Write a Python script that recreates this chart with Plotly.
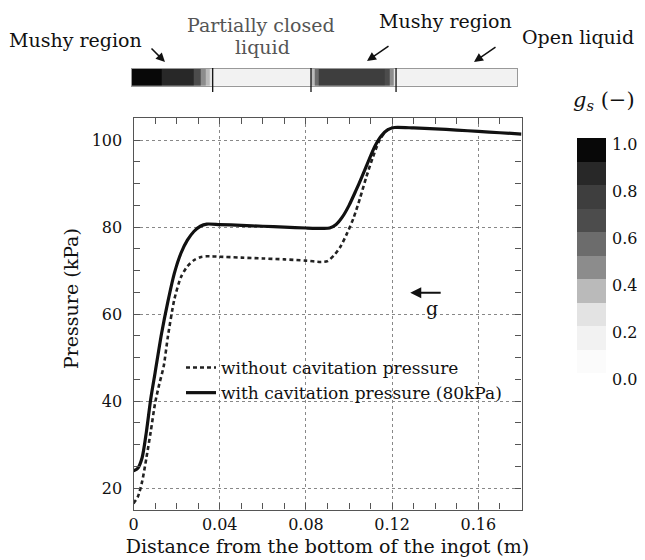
import plotly.graph_objects as go

# ---------------- data ----------------
x_with = [0, 0.002, 0.004, 0.006, 0.008, 0.010, 0.013, 0.016, 0.019, 0.022, 0.025, 0.028,
          0.031, 0.034, 0.04, 0.05, 0.06, 0.07, 0.08, 0.088, 0.091, 0.094, 0.097, 0.100,
          0.103, 0.106, 0.109, 0.112, 0.115, 0.118, 0.121, 0.13, 0.14, 0.15, 0.16, 0.17, 0.18]
p_with = [24.0, 24.6, 27.0, 33.0, 40.5, 46.5, 55.5, 63.0, 69.5, 74.0, 77.0, 79.0,
          80.2, 80.7, 80.6, 80.4, 80.2, 80.0, 79.8, 79.7, 79.8, 80.6, 82.4, 85.0,
          88.2, 91.6, 95.2, 98.6, 101.0, 102.4, 102.9, 102.8, 102.6, 102.3, 102.0, 101.7, 101.4]

x_without = [0, 0.002, 0.004, 0.006, 0.008, 0.010, 0.012, 0.014, 0.016, 0.019, 0.022, 0.025,
             0.028, 0.031, 0.034, 0.04, 0.05, 0.06, 0.07, 0.08, 0.087, 0.09, 0.093, 0.096,
             0.099, 0.102, 0.105, 0.108, 0.111, 0.114, 0.117, 0.12]
p_without = [16.5, 18.0, 21.5, 27.0, 33.0, 39.5, 44.0, 48.0, 55.0, 63.5, 68.5, 71.0,
             72.4, 73.1, 73.3, 73.2, 73.0, 72.8, 72.6, 72.3, 72.0, 72.2, 73.5, 75.5,
             78.5, 82.0, 86.5, 91.5, 96.0, 99.8, 102.0, 102.9]

# solid-fraction strip along the ingot (segment edges in m, g_s per segment)
strip_edges = [0, 0.014, 0.0288, 0.032, 0.0345, 0.0365, 0.0378, 0.0837, 0.0855, 0.0875,
               0.1183, 0.1205, 0.1225, 0.1234, 0.18]
strip_gs = [0.95, 0.8, 0.65, 0.45, 0.3, 0.2, 0.12, 0.35, 0.55, 0.78, 0.6, 0.4, 0.25, 0.12]
strip_boundaries = [0.0378, 0.0837, 0.1234]

# colour bands of the g_s scale (0.0-0.1 ... 0.9-1.0)
band_colors = ["#fbfbfb", "#f2f2f2", "#e3e3e3", "#bababa", "#8c8c8c",
               "#6c6c6c", "#4c4c4c", "#3e3e3e", "#282828", "#080808"]
cbar_ticks = [0.0, 0.2, 0.4, 0.6, 0.8, 1.0]
cbar_ticktext = ["0.0", "0.2", "0.4", "0.6", "0.8", "1.0"]

# ---------------- figure ----------------
OFF = 8                      # default page margin of the html body
W, H = 645 - OFF, 560 - OFF
FONT = "DejaVu Serif"
INK = "#111"


def px_x(p):
    return (p - OFF) / W


def px_y(p):
    return 1 - (p - OFF) / H


colorscale = []
n = len(band_colors)
for i, c in enumerate(band_colors):
    colorscale.append([i / n, c])
    colorscale.append([(i + 1) / n, c])

fig = go.Figure()

fig.add_trace(go.Scatter(
    x=x_without, y=p_without, mode="lines", name="without cavitation pressure",
    line=dict(color="#222", width=2.6, dash="4px,3px", shape="spline", smoothing=0.7),
    xaxis="x", yaxis="y"))
fig.add_trace(go.Scatter(
    x=x_with, y=p_with, mode="lines", name="with cavitation pressure (80kPa)",
    line=dict(color=INK, width=3.2, shape="spline", smoothing=0.7),
    xaxis="x", yaxis="y"))

CB_TOP, CB_BOT = 138, 373
fig.add_trace(go.Heatmap(
    x=strip_edges, y=[0, 1], z=[strip_gs], zmin=0, zmax=1,
    colorscale=colorscale, xaxis="x2", yaxis="y2", showlegend=False,
    colorbar=dict(
        x=px_x(577), xanchor="left", y=px_y(CB_TOP), yanchor="top",
        lenmode="pixels", len=CB_BOT - CB_TOP, thickness=29, thicknessmode="pixels",
        outlinewidth=0, ticks="", showticklabels=False, xpad=0, ypad=0)))

grid = dict(showgrid=True, gridcolor="#888", gridwidth=1, griddash="dot")
axis_common = dict(showline=True, linecolor="#555", linewidth=1.2, mirror="ticks",
                   ticks="inside", ticklen=6, tickcolor="#555", zeroline=False,
                   tickfont=dict(family=FONT, size=16, color=INK), automargin=False,
                   **grid)

fig.update_layout(
    width=W, height=H, margin=dict(l=0, r=0, t=0, b=0),
    paper_bgcolor="white", plot_bgcolor="white", template="none",
    font=dict(family=FONT, size=17, color=INK),
    xaxis=dict(domain=[px_x(133.5), px_x(521.5)], range=[0, 0.18], dtick=0.04, tick0=0,
               minor=dict(dtick=0.01, ticks="inside", ticklen=6, tickcolor="#555", showgrid=False),
               title=dict(text="Distance from the bottom of the ingot (m)",
                          font=dict(family=FONT, size=19), standoff=6),
               anchor="y", **axis_common),
    yaxis=dict(domain=[px_y(509.5), px_y(117.5)], range=[15.1, 105.2], dtick=20, tick0=0,
               minor=dict(dtick=5, ticks="inside", ticklen=6, tickcolor="#555", showgrid=False),
               ticklabelstandoff=7, anchor="x", **axis_common),
    xaxis2=dict(domain=[px_x(131.7), px_x(517.3)], range=[0, 0.18], anchor="y2",
                showgrid=False, zeroline=False, showticklabels=False, ticks="",
                showline=True, mirror=True, linecolor="#999", linewidth=1),
    yaxis2=dict(domain=[px_y(85.7), px_y(69)], range=[0, 1], anchor="x2",
                showgrid=False, zeroline=False, showticklabels=False, ticks="",
                showline=True, mirror=True, linecolor="#999", linewidth=1),
    legend=dict(x=px_x(181), y=px_y(350), xanchor="left", yanchor="top",
                bgcolor="rgba(0,0,0,0)", borderwidth=0,
                font=dict(family=FONT, size=17, color=INK), tracegroupgap=0),
    showlegend=True,
)

# y axis title (sits a little above the plot centre in the reference)
fig.add_annotation(x=px_x(71), y=px_y(299), xref="paper", yref="paper",
                   text="Pressure (kPa)", textangle=-90, showarrow=False,
                   xanchor="center", yanchor="middle",
                   font=dict(family=FONT, size=19, color=INK))

for b in strip_boundaries:
    fig.add_shape(type="line", xref="x2", yref="y2 domain", x0=b, x1=b, y0=-0.38, y1=1.06,
                  line=dict(color=INK, width=1.3))

# colour-bar tick labels
for v, t in zip(cbar_ticks, cbar_ticktext):
    yy = CB_BOT - v * (CB_BOT - CB_TOP) + 6
    fig.add_annotation(x=px_x(610), y=px_y(yy), xref="paper", yref="paper", text=t,
                       showarrow=False, xanchor="left", yanchor="middle",
                       font=dict(family=FONT, size=16, color=INK))

# region labels above the strip
labels = [
    ("Mushy region", 75, 40, INK),
    ("Partially closed", 261, 25, "#555"),
    ("liquid", 262, 47, "#555"),
    ("Mushy region", 445, 21, INK),
    ("Open liquid", 578, 37, INK),
]
for t, xx, yy, c in labels:
    fig.add_annotation(x=px_x(xx), y=px_y(yy), xref="paper", yref="paper", text=t,
                       showarrow=False, xanchor="center", yanchor="middle",
                       font=dict(family=FONT, size=19, color=c))

arrows = [((150, 47), (165, 62)), ((390, 45), (367, 61)), ((497, 46), (474, 62))]
for (x0, y0), (x1, y1) in arrows:
    fig.add_annotation(x=px_x(x1), y=px_y(y1), xref="paper", yref="paper",
                       ax=x0 - x1, ay=y0 - y1, axref="pixel", ayref="pixel",
                       text="", showarrow=True, arrowhead=2, arrowsize=1.2,
                       arrowwidth=1.5, arrowcolor=INK)

# gravity arrow
fig.add_annotation(x=0.1284, y=64.9, xref="x", yref="y", ax=0.1432, ay=64.9, axref="x", ayref="y",
                   text="", showarrow=True, arrowhead=2, arrowsize=1.1, arrowwidth=2,
                   arrowcolor=INK)
fig.add_annotation(x=0.1385, y=61.4, xref="x", yref="y", text="g", showarrow=False,
                   xanchor="center", yanchor="middle",
                   font=dict(family=FONT, size=19, color=INK))

# colour bar title
fig.add_annotation(x=px_x(604), y=px_y(101), xref="paper", yref="paper",
                   text="<i>g</i><sub><i>s</i></sub> (−)", showarrow=False,
                   xanchor="center", yanchor="middle",
                   font=dict(family=FONT, size=21, color=INK))

fig.write_html("out.html")
